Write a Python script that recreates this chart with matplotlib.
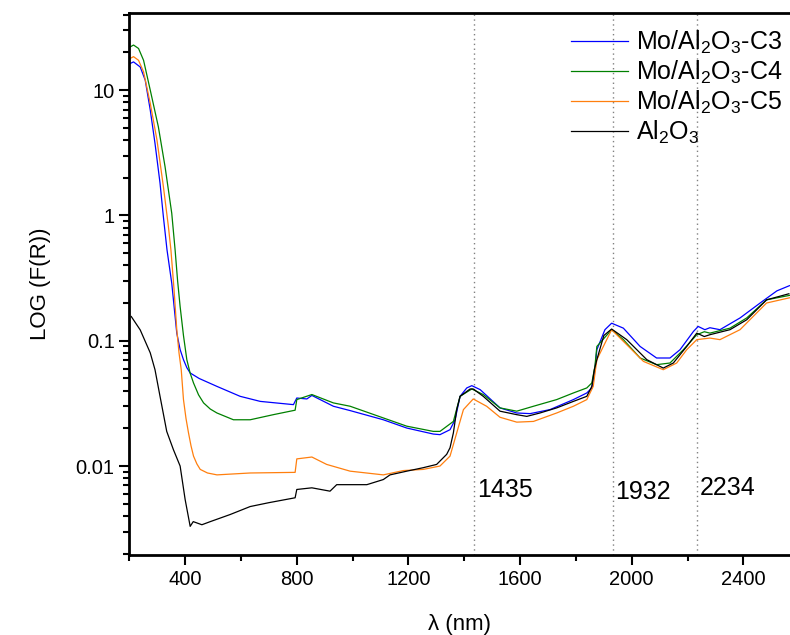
import matplotlib
matplotlib.use("Agg")
import matplotlib.pyplot as plt
import matplotlib.ticker as mticker

plt.rcParams['font.family'] = ['Liberation Sans', 'DejaVu Sans']
plt.rcParams['mathtext.fontset'] = 'custom'
plt.rcParams['mathtext.rm'] = 'Liberation Sans'

# ---- data (wavelength nm, F(R)) ----
al2o3_x = [207, 239, 275, 292, 310, 334, 358, 382, 400, 418, 429, 460, 490, 561, 633, 700, 794,
           800, 854, 919, 943, 1051, 1110, 1134, 1194, 1253, 1301, 1337, 1349, 1361, 1373, 1385,
           1421, 1432, 1468, 1528, 1588, 1624, 1671, 1731, 1791, 1839, 1857, 1866, 1875, 1900,
           1928, 1982, 2054, 2113, 2149, 2197, 2233, 2260, 2280, 2352, 2412, 2483, 2563]
al2o3_y = [0.156, 0.122, 0.080, 0.0587, 0.036, 0.0189, 0.0135, 0.0100, 0.0054, 0.0033, 0.0036,
           0.0034, 0.0036, 0.0041, 0.00475, 0.0051, 0.00558,
           0.0065, 0.0067, 0.0063, 0.0071, 0.0071, 0.0078, 0.0085, 0.0091, 0.0097, 0.0103, 0.0124,
           0.0140, 0.0184, 0.0282, 0.036, 0.0412, 0.0412, 0.036, 0.0274, 0.0257, 0.0249, 0.0265,
           0.0291, 0.0328, 0.036, 0.0432, 0.0587, 0.0706, 0.110,
           0.124, 0.102, 0.0706, 0.0605, 0.0664, 0.090, 0.115, 0.108, 0.1117, 0.1225, 0.147, 0.212, 0.237]

c3_x = [203, 215, 239, 257, 275, 292, 310, 322, 335, 352, 370, 382, 394, 406, 418, 450, 514, 597,
        669, 788,
        800, 836, 854, 931, 991, 1110, 1194, 1289, 1313, 1349, 1367, 1385, 1409, 1427, 1457,
        1528, 1588, 1636, 1707, 1791, 1839, 1857, 1868, 1875, 1904, 1928, 1970, 2030, 2089,
        2137, 2173, 2221, 2238, 2262, 2280, 2316, 2388, 2460, 2520, 2565]
c3_y = [16.3, 16.8, 15.3, 12.0, 6.93, 3.76, 1.81, 0.977, 0.531, 0.288, 0.115, 0.085, 0.0706,
        0.061, 0.0553, 0.050, 0.0432, 0.036, 0.0328, 0.0309,
        0.0349, 0.0343, 0.0366, 0.030, 0.0277, 0.0234, 0.0201, 0.018, 0.0178, 0.0195, 0.0234,
        0.036, 0.042, 0.0438, 0.0407, 0.0291, 0.0265, 0.0262, 0.0282, 0.0339, 0.0383, 0.042,
        0.0587, 0.0848, 0.1225, 0.138, 0.126, 0.090, 0.0728, 0.0728, 0.0848, 0.1186, 0.130,
        0.1225, 0.127, 0.1225, 0.152, 0.20, 0.25, 0.275]

c4_x = [203, 215, 233, 251, 275, 304, 328, 352, 364, 373, 382, 394, 406, 418, 430, 448, 466, 490,
        514, 573, 633, 716, 794,
        800, 854, 931, 991, 1110, 1194, 1289, 1313, 1361, 1385, 1427, 1468, 1528, 1588, 1648,
        1731, 1791, 1839, 1857, 1868, 1875, 1928, 1970, 2030, 2089, 2137, 2185, 2233, 2260,
        2280, 2352, 2412, 2483, 2565]
c4_y = [22.1, 22.9, 21.5, 17.3, 10.0, 5.1, 2.45, 1.04, 0.531, 0.30, 0.1875, 0.11, 0.0706, 0.055,
        0.046, 0.037, 0.0319, 0.0285,
        0.0265, 0.0234, 0.0234, 0.0257, 0.0279,
        0.0339, 0.0372, 0.0319, 0.030, 0.0242, 0.0208, 0.0189, 0.0189, 0.0227, 0.036, 0.0412,
        0.0372, 0.0291, 0.0274, 0.030, 0.0339, 0.0383, 0.042, 0.046, 0.0623, 0.090, 0.1225,
        0.102, 0.0728, 0.0644, 0.0664, 0.0848, 0.1117, 0.118, 0.115, 0.126, 0.152, 0.212, 0.23]

c5_x = [203, 215, 233, 251, 275, 299, 322, 340, 349, 360, 370, 378, 386, 394, 403, 412, 421, 430,
        442, 454, 480, 514, 633, 794,
        800, 854, 907, 991, 1110, 1182, 1253, 1313, 1349, 1373, 1397, 1432, 1480, 1528, 1588,
        1648, 1731, 1791, 1839, 1862, 1875, 1928, 1982, 2042, 2113, 2161, 2197, 2233, 2280,
        2316, 2388, 2483, 2565]
c5_y = [17.9, 18.5, 17.3, 14.0, 7.84, 4.0, 1.70, 0.815, 0.531, 0.26, 0.1225, 0.08, 0.0587,
        0.0339, 0.024, 0.0184, 0.0145, 0.012, 0.0104, 0.0094, 0.0088, 0.0085, 0.0088, 0.0089,
        0.0114, 0.0118, 0.0103, 0.0091, 0.0085, 0.0092, 0.0094, 0.0100, 0.012, 0.0184, 0.0282,
        0.0343, 0.030, 0.0245, 0.0224, 0.0227, 0.0265, 0.030, 0.0339, 0.0432, 0.0706, 0.1225,
        0.093, 0.0684, 0.0587, 0.0664, 0.0848, 0.102, 0.105, 0.102, 0.1225, 0.20, 0.22]

peak_positions = [1435, 1932, 2234]
peak_labels = ['1435', '1932', '2234']
peak_label_y = [0.0064, 0.0062, 0.0067]

series = [
    (c3_x, c3_y, '#0000ff', r'Mo/Al$_2$O$_3$-C3'),
    (c4_x, c4_y, '#008000', r'Mo/Al$_2$O$_3$-C4'),
    (c5_x, c5_y, '#ff7f0e', r'Mo/Al$_2$O$_3$-C5'),
    (al2o3_x, al2o3_y, '#000000', r'Al$_2$O$_3$'),
]

fig = plt.figure(figsize=(7.9, 6.35), dpi=100)
ax = fig.add_axes([0.1637, 0.126, 0.8363, 0.853])

for xs, ys, col, lab in series:
    ax.plot(xs, ys, color=col, lw=0.9, label=lab)

for p in peak_positions:
    ax.axvline(p, color='#808080', lw=1.0, ls=(0, (1, 2.5)), zorder=0)
for p, lab, yy in zip(peak_positions, peak_labels, peak_label_y):
    ax.annotate(lab, xy=(p, yy), xytext=(2, 0), textcoords='offset points',
                fontsize=18, va='center', ha='left')

ax.set_yscale('log')
ax.set_xlim(200, 2567)
ax.set_ylim(0.00195, 41)

ax.xaxis.set_major_locator(mticker.MultipleLocator(400))
ax.xaxis.set_minor_locator(mticker.MultipleLocator(200))
ax.yaxis.set_major_locator(mticker.FixedLocator([0.01, 0.1, 1, 10]))
ax.yaxis.set_major_formatter(mticker.FixedFormatter(['0.01', '0.1', '1', '10']))
ax.yaxis.set_minor_locator(mticker.LogLocator(base=10, subs=range(2, 10)))
ax.yaxis.set_minor_formatter(mticker.NullFormatter())

ax.tick_params(axis='both', which='major', direction='out', length=7, width=1.5, labelsize=14.5)
ax.tick_params(axis='both', which='minor', direction='out', length=4, width=1.5)
ax.tick_params(top=False, right=False)

for s in ['left', 'bottom', 'top']:
    ax.spines[s].set_linewidth(2)
ax.spines['right'].set_visible(False)

ax.set_xlabel('λ (nm)', fontsize=16, labelpad=18)
ax.set_ylabel('LOG (F(R))', fontsize=16, labelpad=18)

leg = ax.legend(loc='upper right', frameon=False, fontsize=18, handlelength=2.3,
                handletextpad=0.3, labelspacing=0.12, borderaxespad=0.2,
                bbox_to_anchor=(1.011, 1.0))

fig.savefig('out.png', dpi=100)
